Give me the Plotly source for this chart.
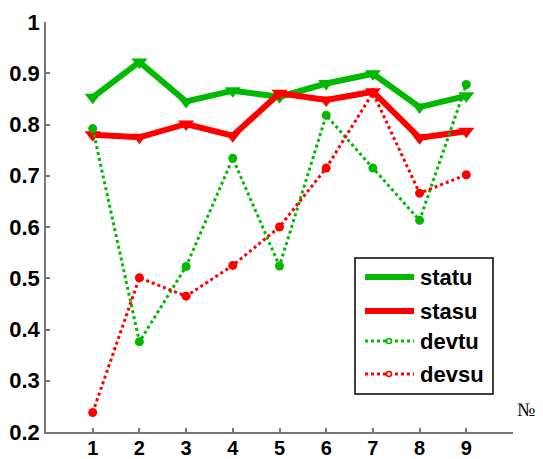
import plotly.graph_objects as go

# Experiment number and the four measured series
runs = [1, 2, 3, 4, 5, 6, 7, 8, 9]
statu = [0.853, 0.922, 0.845, 0.866, 0.854, 0.880, 0.899, 0.834, 0.856]
stasu = [0.780, 0.775, 0.801, 0.778, 0.861, 0.848, 0.864, 0.774, 0.787]
devtu = [0.792, 0.376, 0.523, 0.734, 0.524, 0.818, 0.715, 0.613, 0.878]
devsu = [0.238, 0.501, 0.465, 0.525, 0.600, 0.715, 0.862, 0.666, 0.702]

y_ticks = [0.2, 0.3, 0.4, 0.5, 0.6, 0.7, 0.8, 0.9, 1.0]
y_labels = ["0.2", "0.3", "0.4", "0.5", "0.6", "0.7", "0.8", "0.9", "1"]

GREEN = "rgb(0,185,0)"
RED = "rgb(255,0,0)"
AXIS = "rgb(120,120,120)"
FONT = "Liberation Sans, Arial, sans-serif"

W, H = 543, 459
ML, MR, MT, MB = 46, 30, 22, 27

fig = go.Figure()

fig.add_trace(go.Scatter(
    x=runs, y=statu, name="statu", mode="lines+markers",
    line=dict(color=GREEN, width=6),
    marker=dict(symbol="triangle-down", size=14, color=GREEN),
))
fig.add_trace(go.Scatter(
    x=runs, y=stasu, name="stasu", mode="lines+markers",
    line=dict(color=RED, width=6),
    marker=dict(symbol="triangle-down", size=14, color=RED),
))
fig.add_trace(go.Scatter(
    x=runs, y=devtu, name="devtu", mode="lines+markers",
    line=dict(color=GREEN, width=3, dash="dot"),
    marker=dict(symbol="circle", size=9, color=GREEN),
))
fig.add_trace(go.Scatter(
    x=runs, y=devsu, name="devsu", mode="lines+markers",
    line=dict(color=RED, width=3, dash="dot"),
    marker=dict(symbol="circle", size=9, color=RED),
))

# Legend box drawn by hand in pixel space, converted to paper coordinates
pw = W - ML - MR
ph = H - MT - MB


def px(x):
    return (x - ML) / pw


def py(y):
    return (H - MB - y) / ph


shapes = [
    dict(type="rect", xref="paper", yref="paper",
         x0=px(355), x1=px(493), y0=py(394), y1=py(258),
         line=dict(color="black", width=1.5), fillcolor="white", layer="above"),
]
annotations = []
entries = [
    ("statu", GREEN, 6, "solid", False, 277),
    ("stasu", RED, 6, "solid", False, 311),
    ("devtu", GREEN, 3, "dot", True, 341),
    ("devsu", RED, 3, "dot", True, 374),
]
for label, color, width, dash, ring, yc in entries:
    shapes.append(dict(type="line", xref="paper", yref="paper",
                       x0=px(365), x1=px(414), y0=py(yc), y1=py(yc),
                       line=dict(color=color, width=width, dash=dash),
                       layer="above"))
    if ring:
        shapes.append(dict(type="circle", xref="paper", yref="paper",
                           x0=px(386.5), x1=px(391.5), y0=py(yc + 2.5), y1=py(yc - 2.5),
                           line=dict(color=color, width=1.5), fillcolor="white",
                           layer="above"))
    annotations.append(dict(xref="paper", yref="paper", x=px(418), y=py(yc),
                            xanchor="left", yanchor="middle", showarrow=False,
                            text=f"<b>{label}</b>",
                            font=dict(family=FONT, size=22, color="black")))

# Axis name at the right end of the horizontal axis
annotations.append(dict(xref="paper", yref="paper", x=px(515), y=py(409),
                        xanchor="left", yanchor="middle", showarrow=False,
                        text="№", font=dict(family="Liberation Serif, Times New Roman, serif",
                                            size=19, color="black")))

fig.update_layout(
    width=W, height=H,
    margin=dict(l=ML, r=MR, t=MT, b=MB, autoexpand=False),
    paper_bgcolor="white", plot_bgcolor="white",
    showlegend=False,
    shapes=shapes, annotations=annotations,
    xaxis=dict(
        range=[0, 10], tickvals=runs, ticktext=[str(r) for r in runs],
        showgrid=False, zeroline=False, showline=True, linecolor=AXIS, linewidth=1.5,
        ticks="inside", ticklen=4, tickcolor=AXIS, tickwidth=1.5,
        tickfont=dict(family=FONT, size=20, color="black", weight="bold"),
        ticklabelstandoff=-3,
        automargin=False,
    ),
    yaxis=dict(
        range=[0.2, 1.0], tickvals=y_ticks, ticktext=y_labels,
        showgrid=False, zeroline=False, showline=True, linecolor=AXIS, linewidth=1.5,
        ticks="inside", ticklen=4, tickcolor=AXIS, tickwidth=1.5,
        tickfont=dict(family=FONT, size=22, color="black", weight="bold"),
        automargin=False,
    ),
)

fig.write_html("out.html")
